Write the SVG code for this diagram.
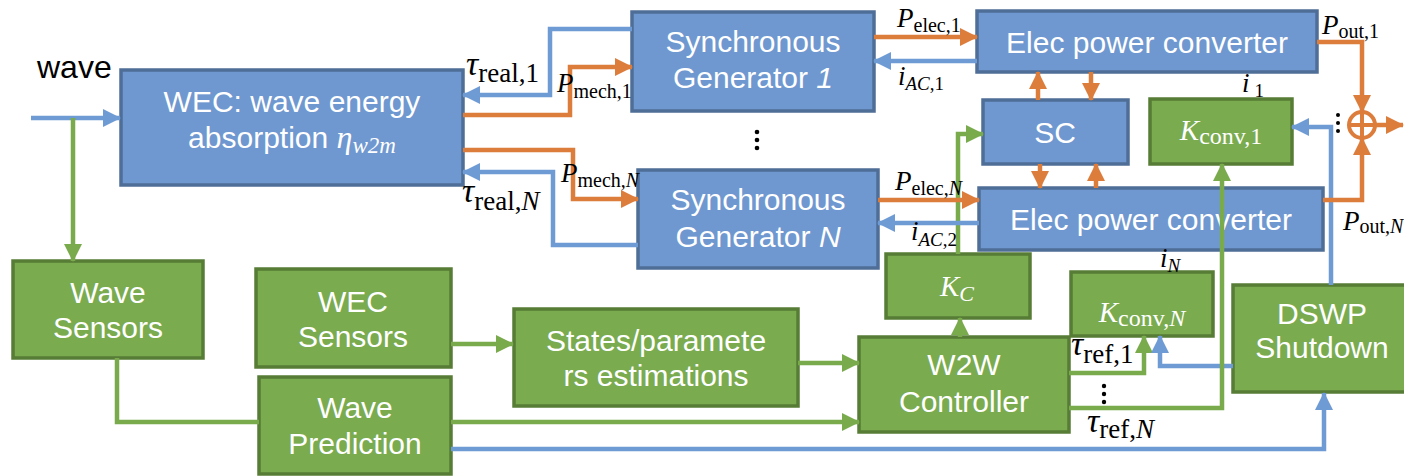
<svg xmlns="http://www.w3.org/2000/svg" width="1404" height="476" viewBox="0 0 1404 476">
<defs>
<style>
.bb{fill:#6f98d0;stroke:#4f6e97;stroke-width:3.5}
.gb{fill:#7aab4f;stroke:#577c36;stroke-width:3.5}
.t{font-family:"Liberation Sans",Arial,sans-serif;font-size:30px;fill:#ffffff;text-anchor:middle}
.m{font-family:"Liberation Serif","DejaVu Serif",serif;font-size:27px;fill:#000}
.mw{font-family:"Liberation Serif","DejaVu Serif",serif;font-size:29px;fill:#ffffff}
.i{font-style:italic}
.cb{fill:none;stroke:#6f9bd4;stroke-width:4.5}
.cg{fill:none;stroke:#79ab4c;stroke-width:4.5}
.co{fill:none;stroke:#dc7d3c;stroke-width:4.5}
</style>
<marker id="ab" viewBox="0 0 18 18" refX="17" refY="9" markerWidth="18" markerHeight="18" orient="auto" markerUnits="userSpaceOnUse"><path d="M0,0 L18,9 L0,18 z" fill="#6f9bd4"/></marker>
<marker id="ag" viewBox="0 0 18 18" refX="17" refY="9" markerWidth="18" markerHeight="18" orient="auto" markerUnits="userSpaceOnUse"><path d="M0,0 L18,9 L0,18 z" fill="#79ab4c"/></marker>
<marker id="ao" viewBox="0 0 18 18" refX="17" refY="9" markerWidth="18" markerHeight="18" orient="auto" markerUnits="userSpaceOnUse"><path d="M0,0 L18,9 L0,18 z" fill="#dc7d3c"/></marker>
</defs>
<rect width="1404" height="476" fill="#ffffff"/>

<text x="37" y="78" font-family="'Liberation Sans',Arial,sans-serif" font-size="32" fill="#000">wave</text>

<g id="wec"><rect class="bb" x="121" y="70" width="342" height="115"/>
<text class="t" x="292" y="112">WEC: wave energy</text>
<text class="t" x="292" y="148">absorption <tspan class="i" font-family="'Liberation Serif',serif" font-size="32">η</tspan><tspan class="i" font-family="'Liberation Serif',serif" font-size="23" dy="5">w2m</tspan></text></g>

<g id="sg1"><rect class="bb" x="632" y="12" width="242" height="99"/>
<text class="t" x="753" y="52">Synchronous</text>
<text class="t" x="753" y="88">Generator <tspan class="i">1</tspan></text></g>

<g id="sgn"><rect class="bb" x="638" y="170" width="240" height="98"/>
<text class="t" x="758" y="210">Synchronous</text>
<text class="t" x="758" y="247">Generator <tspan class="i">N</tspan></text></g>

<g id="epc1"><rect class="bb" x="977" y="11" width="340" height="61"/>
<text class="t" x="1147" y="53">Elec power converter</text></g>

<g id="epcn"><rect class="bb" x="979" y="188" width="344" height="62"/>
<text class="t" x="1151" y="230">Elec power converter</text></g>

<g id="sc"><rect class="bb" x="983" y="100" width="145" height="64"/>
<text class="t" x="1055" y="143">SC</text></g>

<g id="kconv1"><rect class="gb" x="1150" y="99" width="142" height="65"/>
<text class="mw" x="1221" y="140" text-anchor="middle"><tspan class="i">K</tspan><tspan font-size="24" dy="4">conv,1</tspan></text></g>

<g id="wavesensors"><rect class="gb" x="13" y="261" width="190" height="97"/>
<text class="t" x="108" y="303">Wave</text>
<text class="t" x="108" y="338">Sensors</text></g>

<g id="wecsensors"><rect class="gb" x="256" y="269" width="195" height="98"/>
<text class="t" x="353" y="312">WEC</text>
<text class="t" x="353" y="347">Sensors</text></g>

<g id="waveprediction"><rect class="gb" x="259" y="377" width="192" height="97"/>
<text class="t" x="355" y="418">Wave</text>
<text class="t" x="355" y="454">Prediction</text></g>

<g id="states"><rect class="gb" x="514" y="309" width="284" height="97"/>
<text class="t" x="656" y="351">States/paramete</text>
<text class="t" x="656" y="386">rs estimations</text></g>

<g id="w2w"><rect class="gb" x="859" y="337" width="210" height="95"/>
<text class="t" x="964" y="375">W2W</text>
<text class="t" x="964" y="412">Controller</text></g>

<g id="kc"><rect class="gb" x="886" y="254" width="144" height="64"/>
<text class="mw" x="957" y="296" text-anchor="middle"><tspan class="i">K</tspan><tspan class="i" font-size="22" dy="5">C</tspan></text></g>

<g id="kconvn"><rect class="gb" x="1071" y="272" width="142" height="64"/>
<text class="mw" x="1142" y="322" text-anchor="middle"><tspan class="i">K</tspan><tspan font-size="24" dy="4">conv,<tspan class="i">N</tspan></tspan></text></g>

<g id="dswp"><rect class="gb" x="1233" y="285" width="180" height="107"/>
<text class="t" x="1322" y="324">DSWP</text>
<text class="t" x="1322" y="358">Shutdown</text></g>

<g id="sum"><circle cx="1362" cy="125" r="13" fill="none" stroke="#dc7d3c" stroke-width="4"/>
<path d="M1349,125 H1375 M1362,112 V138" stroke="#dc7d3c" stroke-width="4"/></g>

<g id="connectors">
<path class="cb" d="M31,118 H120" marker-end="url(#ab)"/>
<path class="cg" d="M73,118 V261" marker-end="url(#ag)"/>
<path class="cg" d="M117,358 V422 H259"/>
<path class="cg" d="M451,344 H513" marker-end="url(#ag)"/>
<path class="cg" d="M798,363 H859" marker-end="url(#ag)"/>
<path class="cg" d="M451,422 H859" marker-end="url(#ag)"/>
<path class="cb" d="M451,449 H1324 V393" marker-end="url(#ab)"/>
<path class="cg" d="M960,337 V318" marker-end="url(#ag)"/>
<path class="cg" d="M958,254 V134 H983" marker-end="url(#ag)"/>
<path class="cg" d="M1069,373 H1144 V336" marker-end="url(#ag)"/>
<path class="cb" d="M1233,366 H1160 V336" marker-end="url(#ab)"/>
<path class="cg" d="M1069,408 H1222 V164" marker-end="url(#ag)"/>
<path class="cb" d="M1331,285 V127 H1292" marker-end="url(#ab)"/>
<path class="cb" d="M632,29 H550 V95 H463" marker-end="url(#ab)"/>
<path class="co" d="M463,115 H570 V67 H632" marker-end="url(#ao)"/>
<path class="co" d="M463,150 H573 V199 H638" marker-end="url(#ao)"/>
<path class="cb" d="M638,245 H553 V172 H463" marker-end="url(#ab)"/>
<path class="co" d="M874,37 H977" marker-end="url(#ao)"/>
<path class="cb" d="M977,61 H874" marker-end="url(#ab)"/>
<path class="co" d="M878,200 H979" marker-end="url(#ao)"/>
<path class="cb" d="M979,223 H878" marker-end="url(#ab)"/>
<path class="co" d="M1038,100 V72" marker-end="url(#ao)"/>
<path class="co" d="M1091,72 V100" marker-end="url(#ao)"/>
<path class="co" d="M1040,164 V188" marker-end="url(#ao)"/>
<path class="co" d="M1096,188 V164" marker-end="url(#ao)"/>
<path class="co" d="M1317,42 H1362 V112" marker-end="url(#ao)"/>
<path class="co" d="M1323,200 H1362 V138" marker-end="url(#ao)"/>
<path class="co" d="M1375,125 H1403" marker-end="url(#ao)"/>
</g>

<g id="dots" fill="#000">
<circle cx="757" cy="132" r="2.3"/><circle cx="757" cy="140" r="2.3"/><circle cx="757" cy="148" r="2.3"/>
<circle cx="1338" cy="115" r="2"/><circle cx="1338" cy="123" r="2"/><circle cx="1338" cy="131" r="2"/>
<circle cx="1104" cy="386" r="2.2"/><circle cx="1104" cy="394" r="2.2"/><circle cx="1104" cy="402" r="2.2"/>
</g>

<g id="labels">
<text class="m" x="466" y="75"><tspan class="i" font-size="34">τ</tspan><tspan dy="7">real,1</tspan></text>
<text class="m" x="462" y="202"><tspan class="i" font-size="34">τ</tspan><tspan dy="8">real,<tspan class="i">N</tspan></tspan></text>
<text class="m" x="557" y="92"><tspan class="i" font-size="27">P</tspan><tspan font-size="20" dy="6">mech,1</tspan></text>
<text class="m" x="561" y="182"><tspan class="i" font-size="27">P</tspan><tspan font-size="20" dy="5">mech,<tspan class="i">N</tspan></tspan></text>
<text class="m" x="897" y="27"><tspan class="i" font-size="27">P</tspan><tspan font-size="20" dy="5">elec,1</tspan></text>
<text class="m" x="895" y="190"><tspan class="i" font-size="27">P</tspan><tspan font-size="20" dy="5">elec,<tspan class="i">N</tspan></tspan></text>
<text class="m" x="898" y="85"><tspan class="i" font-size="27">i</tspan><tspan font-size="19" dy="5"><tspan class="i">AC</tspan>,1</tspan></text>
<text class="m" x="911" y="240"><tspan class="i" font-size="27">i</tspan><tspan font-size="19" dy="6"><tspan class="i">AC</tspan>,2</tspan></text>
<text class="m" x="1322" y="34"><tspan class="i" font-size="27">P</tspan><tspan font-size="20" dy="4">out,1</tspan></text>
<text class="m" x="1343" y="230"><tspan class="i" font-size="27">P</tspan><tspan font-size="20" dy="3">out,<tspan class="i">N</tspan></tspan></text>
<text class="m" x="1242" y="92"><tspan class="i" font-size="27">i</tspan><tspan font-size="19" dx="5" dy="5">1</tspan></text>
<text class="m" x="1160" y="267"><tspan class="i" font-size="27">i</tspan><tspan class="i" font-size="19" dy="5">N</tspan></text>
<text class="m" x="1071" y="355"><tspan class="i" font-size="34">τ</tspan><tspan dy="8">ref,1</tspan></text>
<text class="m" x="1087" y="432"><tspan class="i" font-size="34">τ</tspan><tspan dy="6">ref,<tspan class="i">N</tspan></tspan></text>
</g>
</svg>
